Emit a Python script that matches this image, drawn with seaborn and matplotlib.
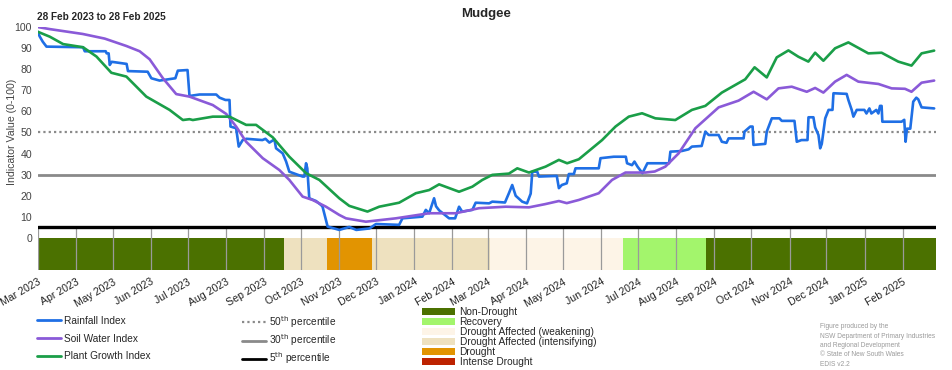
import numpy as np
import pandas as pd
import matplotlib
matplotlib.use("Agg")
import matplotlib.pyplot as plt
import matplotlib.dates as mdates
from matplotlib.lines import Line2D
from matplotlib.patches import Patch
import seaborn as sns

# ---------------- data (day offsets from 2023-03-01, index values) ----------------
START = "2023-03-01"

rain_days = [0, 1.9, 4.3, 7.3, 37, 38.4, 55.4, 56.2, 57.8, 58.7, 60.3, 72.4, 73.5, 89.5, 92.5, 99.2,
             112, 114, 121.9, 123.5, 131.6, 145.2, 147.9, 152.7, 156, 156.8, 161.4, 163.5, 166.7, 169.8,
             182.7, 185.2, 188.4, 192.5, 193.8, 199.2, 202, 204.6, 215.4, 216.8, 218.2, 219.2, 220.8,
             226.3, 230.6, 231.6, 234.4, 235.7, 245.2, 253.3, 259, 269.7, 275, 293.8, 296.5, 312.7,
             315.5, 318.2, 322.2, 323.8, 326.3, 334.4, 339.3, 342.5, 345, 353.3, 356, 366.9, 369.5,
             379.8, 383, 385.7, 388.5, 393.8, 397.7, 400.7, 402, 406, 407.4, 421.9, 423.6, 426, 430,
             431.7, 435.8, 437.1, 456, 457.4, 468.2, 478, 479, 483, 485, 487.5, 491.5, 495.5, 513.1,
             514.2, 523.4, 529, 531.7, 539.6, 542.6, 545.3, 553.4, 556, 559.8, 561.5, 573.7, 574.4,
             579.1, 581, 581.7, 591.3, 592.5, 596.6, 602.8, 604.7, 615, 616.9, 620.7, 625.6, 626.4,
             630.4, 631.8, 634.5, 635.9, 637.2, 640, 642.7, 645.9, 646.7, 657.4, 658.8, 661.5, 662.9,
             665.6, 671.8, 673.5, 675.9, 677.5, 681.5, 683.2, 684.5, 685.8, 686.4, 702, 704.2, 705.3,
             706.4, 709.1, 711.5, 714, 715.6, 718.3, 728.5]
rain_vals = [97.8, 95.4, 93, 90.7, 90.4, 88.5, 88.5, 87.5, 87.5, 82, 83.5, 82.5, 79.1, 78.8, 75.7, 74.6,
             75.7, 79.3, 79.6, 67.3, 68, 68, 66.5, 65.4, 65.4, 52.8, 52, 43.3, 46.4, 47,
             46.4, 47, 45.2, 46.7, 42.5, 40.1, 36.2, 31.4, 29.1, 29.1, 35.4, 33, 18.8,
             17.5, 15.5, 14.8, 8.5, 5.4, 3.8, 5.2, 3.8, 4.5, 6.6, 6.2, 9.3, 10.1,
             13.3, 11.7, 18.8, 15, 13.1, 9.3, 9.3, 14.8, 12.5, 13.3, 16.7, 16.4, 17.2,
             16.8, 21.2, 25.1, 20, 17.2, 16.4, 21, 31.4, 31.4, 29.1, 29.4, 23.6, 25.1, 25.9,
             30.3, 30.3, 33, 33, 37.8, 38.5, 38.5, 35.4, 34.5, 36.2, 33.8, 30.7, 35.4, 35.4,
             40.9, 41.2, 42, 43.3, 43.6, 50.4, 48.8, 48.8, 45.6, 45.1, 47.2, 47.2, 50.4,
             52.8, 52.8, 44.1, 44.6, 50.4, 56.7, 56.7, 55.5, 55.5, 45.6, 46.4, 46.4, 57.2,
             57.2, 52.4, 48.8, 42.5, 44.6, 56.7, 60.7, 60.7, 68.6, 68.3, 65.4, 60.7, 57.5,
             60.7, 60.7, 59, 61.4, 59, 60.7, 59, 62.6, 62.6, 55.1, 55.1, 56, 45.6,
             51.8, 51.8, 64.6, 66.5, 65.7, 61.9, 61.4]

soil_days = [0, 10, 36.7, 54.6, 72.2, 83, 91.1, 101.9, 112.7, 123.5, 142.4, 153.3, 161.4, 169.5, 183,
             196.5, 204.6, 215.4, 223.5, 234.4, 245.2, 250.6, 266.8, 291.2, 318.2, 339.8, 358.7, 380.4,
             399.3, 412.2, 423.6, 430, 439.8, 456, 466.8, 477.7, 493.9, 501.5, 510.1, 520.9, 534.5,
             553.4, 569.6, 581.8, 592.5, 602, 612.8, 625, 631.8, 638.5, 648, 657.4, 666.9, 683.2, 694,
             704.8, 710.1, 718.3, 728.5]
soil_vals = [100, 99, 96.7, 94.5, 91, 88.5, 84.7, 75.7, 68.2, 67, 63, 58.8, 52.8, 45.6, 37.8,
             32.2, 27.5, 19.6, 18, 14.8, 10.9, 9.3, 7.7, 9.3, 11.7, 11.7, 14.1, 14.8,
             14.5, 16, 17.5, 16.5, 18, 21.2, 27.5, 31, 31, 31.5, 33.8, 40.1, 52,
             61.9, 65.1, 69.3, 65.7, 70.9, 71.7, 69.3, 71.1, 68.9, 74.1, 77.3, 74.1, 73, 70.9,
             70.7, 69.3, 73.6, 74.6]

plant_days = [0, 10, 20.8, 37, 47.9, 60, 72.2, 88.4, 107.3, 118.1, 123.5, 126.2, 142.4, 156, 169.5,
              177.6, 191.1, 204.6, 218.2, 229, 245.2, 253.3, 268.1, 277.6, 293.8, 307.4, 318.2, 326.3,
              342.5, 353.3, 361.4, 369.5, 383, 389.8, 399.3, 412.8, 423.6, 430.3, 439.8, 450.6, 458.7,
              469.6, 480.4, 491.2, 502, 518.2, 531.7, 542.6, 556, 575, 582.6, 592.5, 600.6, 610.1,
              618.2, 626.3, 631.8, 638.5, 648, 658.8, 675, 685.8, 699.3, 710.1, 718.3, 728.5]
plant_vals = [97.8, 95.4, 91.9, 90.4, 86, 78.3, 76.5, 67, 60.7, 55.9, 56.3, 55.9, 57.5, 57.5, 53.6,
              53.6, 47.7, 38.5, 30.7, 27.5, 18.8, 15.2, 12.5, 14.8, 16.7, 21.2, 22.7, 25.4,
              21.9, 24.3, 27.5, 29.9, 30.5, 33, 31, 33.8, 37, 35.4, 37.3, 42.5, 46.4,
              52.8, 57.5, 59.1, 56.7, 55.9, 60.7, 62.6, 68.9, 75.2, 80.9, 76.1, 85.6, 88.9,
              85.9, 83.6, 87.8, 84, 89.9, 92.7, 87.5, 87.8, 83.6, 81.7, 87.5, 88.8]

series_names = ["Rainfall Index", "Soil Water Index", "Plant Growth Index"]
series_colors = ["#1f6fe5", "#8a5ad8", "#1a9e48"]

status_names = ["Non-Drought", "Recovery", "Drought Affected (weakening)",
                "Drought Affected (intensifying)", "Drought", "Intense Drought"]
status_colors = ["#4b7100", "#a3f56c", "#fdf4e7", "#eee1bf", "#e29401", "#bd2200"]
status_starts = ["2023-02-28", "2023-09-17", "2023-10-22", "2023-11-28", "2024-03-03", "2024-06-19", "2024-08-25"]
status_ends = ["2023-09-17", "2023-10-22", "2023-11-28", "2024-03-03", "2024-06-19", "2024-08-25", "2025-02-28"]
status_seq = ["Non-Drought", "Drought Affected (intensifying)", "Drought",
              "Drought Affected (intensifying)", "Drought Affected (weakening)", "Recovery", "Non-Drought"]

pct_levels = [50, 30, 5]
pct_labels = [r"50$^{\mathrm{th}}$ percentile", r"30$^{\mathrm{th}}$ percentile", r"5$^{\mathrm{th}}$ percentile"]

# ---------------- build frame ----------------
t0 = pd.Timestamp(START)
frames = []
for name, d, v in [(series_names[0], rain_days, rain_vals),
                   (series_names[1], soil_days, soil_vals),
                   (series_names[2], plant_days, plant_vals)]:
    frames.append(pd.DataFrame({"date": t0 + pd.to_timedelta(np.array(d), unit="D"),
                                "value": v, "series": name}))
df = pd.concat(frames, ignore_index=True)

# ---------------- style ----------------
sns.set_theme(style="white")
plt.rcParams["font.family"] = ["Liberation Sans", "DejaVu Sans"]
plt.rcParams["mathtext.default"] = "regular"

fig = plt.figure(figsize=(9.52, 3.70), dpi=100)
ax = fig.add_axes([37.5 / 952, 1 - 270 / 370, (936 - 37.5) / 952, (270 - 27) / 370])

# drought status band
for s, e, st in zip(status_starts, status_ends, status_seq):
    c = status_colors[status_names.index(st)]
    ax.fill_between([pd.Timestamp(s), pd.Timestamp(e)], -15.2, 0, color=c, lw=0, zorder=1)

# month grid lines in lower region
months = pd.date_range("2023-03-01", "2025-02-01", freq="MS")
ax.vlines(months, -15.2, 5, color="#9a9a9a", lw=0.9, zorder=2)

# percentile lines
ax.axhline(pct_levels[0], color="#8a8a8a", lw=1.6, ls=(0, (1, 1.4)), zorder=3)
ax.axhline(pct_levels[1], color="#8a8a8a", lw=2.0, zorder=3)
ax.axhline(pct_levels[2], color="black", lw=2.4, zorder=3)

sns.lineplot(data=df, x="date", y="value", hue="series", hue_order=series_names,
             palette=dict(zip(series_names, series_colors)), linewidth=1.9,
             ax=ax, legend=False, zorder=4, estimator=None, sort=False)

ax.set_xlim(pd.Timestamp("2023-03-01"), pd.Timestamp("2025-02-28"))
ax.set_ylim(-15.2, 100)
ax.set_yticks(np.arange(0, 101, 10))
ax.set_xlabel("")
ax.set_ylabel("")
for sp in ax.spines.values():
    sp.set_visible(False)

ax.xaxis.set_major_locator(mdates.MonthLocator())
ax.xaxis.set_major_formatter(mdates.DateFormatter("%b %Y"))
ax.tick_params(axis="x", length=0, pad=5, labelsize=7.6, colors="#222222")
for lab in ax.get_xticklabels():
    lab.set_rotation(30)
    lab.set_ha("right")
    lab.set_rotation_mode("anchor")
ax.tick_params(axis="y", direction="in", length=7, width=1, color="#b0b0b0",
               labelsize=7.6, labelcolor="#444444", pad=4)

# titles
fig.text(486 / 952, 1 - 14 / 370, "Mudgee", ha="center", va="center", fontsize=9.5, fontweight="bold")
fig.text(37 / 952, 1 - 17 / 370, "28 Feb 2023 to 28 Feb 2025", ha="left", va="center",
         fontsize=7.2, fontweight="bold")
fig.text(12 / 952, 1 - 132 / 370, "Indicator Value (0-100)", rotation=90, ha="center", va="center",
         fontsize=7.6, color="#444444")

# legends
h1 = [Line2D([], [], color=c, lw=2) for c in series_colors]
leg1 = fig.legend(h1, series_names, loc="upper left", bbox_to_anchor=(37 / 952, 1 - 316 / 370),
                  frameon=False, fontsize=7.3, handlelength=2.4, handletextpad=0.3,
                  labelspacing=0.75, borderpad=0, borderaxespad=0)
h2 = [Line2D([], [], color="#8a8a8a", lw=1.6, ls=(0, (1, 1.4))),
      Line2D([], [], color="#8a8a8a", lw=2),
      Line2D([], [], color="black", lw=2)]
leg2 = fig.legend(h2, pct_labels, loc="upper left", bbox_to_anchor=(242 / 952, 1 - 314 / 370),
                  frameon=False, fontsize=7.3, handlelength=2.4, handletextpad=0.3,
                  labelspacing=0.25, borderpad=0, borderaxespad=0)
h3 = [Patch(facecolor=c, edgecolor="none") for c in status_colors]
leg3 = fig.legend(h3, status_names, loc="upper left", bbox_to_anchor=(422 / 952, 1 - 307 / 370),
                  frameon=False, fontsize=7.3, handlelength=3.3, handleheight=0.8,
                  handletextpad=0.4, labelspacing=0.0, borderpad=0, borderaxespad=0)

fig.text(820 / 952, 1 - 323 / 370,
         "Figure produced by the\nNSW Department of Primary Industries\nand Regional Development\n"
         "\u00a9 State of New South Wales\nEDIS v2.2",
         ha="left", va="top", fontsize=4.8, color="#9a9a9a", linespacing=1.5)

fig.savefig("out.png", dpi=100)
